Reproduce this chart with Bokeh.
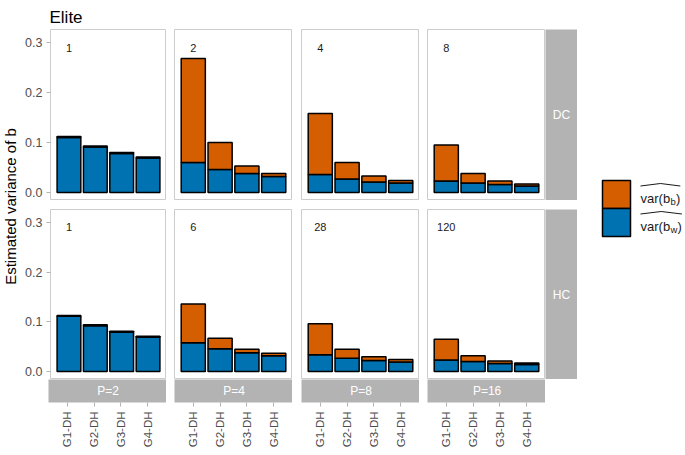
import math
from bokeh.plotting import figure
from bokeh.models import Range1d, FactorRange, FixedTicker, PrintfTickFormatter, ColumnDataSource, Spacer
from bokeh.layouts import row, column
from bokeh.embed import file_html
from bokeh.resources import INLINE
from bokeh.core.properties import value

# ---------------- data ----------------
groups = ["G1-DH", "G2-DH", "G3-DH", "G4-DH"]
p_labels = ["P=2", "P=4", "P=8", "P=16"]
row_labels = ["DC", "HC"]
counts_dc = ["1", "2", "4", "8"]
counts_hc = ["1", "6", "28", "120"]
y_ticks = [0.0, 0.1, 0.2, 0.3]
title_text = "Elite"
y_title = "Estimated variance of b"

# within (blue) and between (orange) components, stacked
w_dc_p2 = [0.110, 0.091, 0.078, 0.069]
b_dc_p2 = [0.002, 0.002, 0.002, 0.002]
w_dc_p4 = [0.060, 0.046, 0.038, 0.032]
b_dc_p4 = [0.208, 0.054, 0.015, 0.006]
w_dc_p8 = [0.036, 0.027, 0.021, 0.019]
b_dc_p8 = [0.122, 0.033, 0.012, 0.005]
w_dc_p16 = [0.023, 0.019, 0.016, 0.013]
b_dc_p16 = [0.072, 0.019, 0.007, 0.004]

w_hc_p2 = [0.111, 0.092, 0.079, 0.069]
b_hc_p2 = [0.002, 0.002, 0.002, 0.002]
w_hc_p4 = [0.058, 0.046, 0.038, 0.032]
b_hc_p4 = [0.078, 0.021, 0.007, 0.005]
w_hc_p8 = [0.034, 0.027, 0.022, 0.019]
b_hc_p8 = [0.062, 0.018, 0.008, 0.005]
w_hc_p16 = [0.023, 0.020, 0.016, 0.014]
b_hc_p16 = [0.042, 0.012, 0.005, 0.003]

dc_w = [w_dc_p2, w_dc_p4, w_dc_p8, w_dc_p16]
dc_b = [b_dc_p2, b_dc_p4, b_dc_p8, b_dc_p16]
hc_w = [w_hc_p2, w_hc_p4, w_hc_p8, w_hc_p16]
hc_b = [b_hc_p2, b_hc_p4, b_hc_p8, b_hc_p16]

# ---------------- style ----------------
FONT = "Liberation Sans"
BLUE = "#0072B2"
ORANGE = "#D55E00"
STRIP = "#B3B3B3"
BORDER = "#CCCCCC"
TICKC = "#B3B3B3"
LABC = "#4D4D4D"
PW = 118
GAPS = [8, 9, 8]
YLAB_W = 22
LEFT_AX = 26
STRIP_W = 32
H_TITLE = 29
H1 = 171
H2 = 170
ROW_GAP = 9
STRIP_H = 26
AX_H = 45
LABEL_Y = 0.29

xr = FactorRange(factors=groups, range_padding=0.2, range_padding_units="absolute")
yr = Range1d(-0.016, 0.326)


def blank(width, height):
    p = figure(width=width, height=height, x_range=(0, width), y_range=(0, height),
               x_axis_location=None, y_axis_location=None, toolbar_location=None,
               output_backend="svg", min_border=0)
    p.grid.visible = False
    p.outline_line_color = None
    return p


def panel(w, b, count, height, first):
    p = figure(width=PW + (LEFT_AX if first else 0), height=height, x_range=xr, y_range=yr,
               x_axis_location=None, y_axis_location="left" if first else None,
               toolbar_location=None, output_backend="svg", min_border=0)
    if first:
        p.min_border_left = LEFT_AX
        ax = p.yaxis[0]
        ax.ticker = FixedTicker(ticks=y_ticks)
        ax.formatter = PrintfTickFormatter(format="%.1f")
        ax.axis_line_color = None
        ax.major_tick_line_color = TICKC
        ax.major_tick_out = 4
        ax.major_tick_in = 0
        ax.minor_tick_line_color = None
        ax.major_label_standoff = 4
        ax.major_label_text_font = FONT
        ax.major_label_text_font_size = "12.5px"
        ax.major_label_text_color = LABC
    p.grid.visible = False
    p.outline_line_color = BORDER
    p.outline_line_width = 1
    p.background_fill_color = "white"
    src = ColumnDataSource(dict(g=groups, w=w, b=b))
    p.vbar_stack(["w", "b"], x="g", width=0.9, source=src,
                 fill_color=[BLUE, ORANGE], line_color="black", line_width=1.5)
    p.text(x=[groups[0]], y=[LABEL_Y], text=[count], text_font=value(FONT),
           text_font_size="11px", text_align="center", text_baseline="middle",
           text_color="#1A1A1A")
    return p


def right_strip(label, height):
    p = blank(STRIP_W, height)
    p.background_fill_color = STRIP
    p.text(x=[STRIP_W / 2], y=[height / 2], text=[label], text_font=value(FONT),
           text_font_size="12px", text_align="center", text_baseline="middle",
           text_color="white")
    return p


def bottom_strip(label):
    p = figure(width=PW, height=STRIP_H + AX_H, x_range=xr, y_range=(0, 1),
               y_axis_location=None, toolbar_location=None,
               output_backend="svg", min_border=0)
    p.min_border_bottom = AX_H
    p.grid.visible = False
    p.outline_line_color = None
    p.background_fill_color = STRIP
    ax = p.xaxis[0]
    ax.axis_line_color = None
    ax.major_tick_line_color = TICKC
    ax.major_tick_out = 4
    ax.major_tick_in = 0
    ax.minor_tick_line_color = None
    ax.major_label_standoff = 5
    ax.major_label_orientation = math.pi / 2
    ax.major_label_text_font = FONT
    ax.major_label_text_font_size = "11.5px"
    ax.major_label_text_color = LABC
    p.text(x=[groups[1]], y=[0.5], x_offset=14, text=[label], text_font=value(FONT),
           text_font_size="12px", text_align="center", text_baseline="middle",
           text_color="white")
    return p


def panel_row(ws, bs, counts, height, strip_label):
    items = []
    for i in range(4):
        if i > 0:
            items.append(Spacer(width=GAPS[i - 1], height=height))
        items.append(panel(ws[i], bs[i], counts[i], height, i == 0))
    items.append(right_strip(strip_label, height))
    return row(*items)


row_w = LEFT_AX + 4 * PW + sum(GAPS) + STRIP_W
main_w = YLAB_W + row_w

# title
tfig = blank(main_w, H_TITLE)
tfig.text(x=[49], y=[12.3], text=[title_text], text_font=value(FONT), text_font_size="17px",
          text_align="left", text_baseline="alphabetic", text_color="black")

# y axis title
ylab_h = H1 + ROW_GAP + H2
ylab = blank(YLAB_W, ylab_h)
ylab.text(x=[9.5], y=[ylab_h - (206 - H_TITLE)], text=[y_title], angle=math.pi / 2,
          text_font=value(FONT), text_font_size="15px", text_align="center",
          text_baseline="middle", text_color="black")

r1 = panel_row(dc_w, dc_b, counts_dc, H1, row_labels[0])
r2 = panel_row(hc_w, hc_b, counts_hc, H2, row_labels[1])
panels = column(r1, Spacer(width=row_w, height=ROW_GAP), r2)

strip_items = [Spacer(width=YLAB_W + LEFT_AX, height=STRIP_H + AX_H)]
for i in range(4):
    if i > 0:
        strip_items.append(Spacer(width=GAPS[i - 1], height=STRIP_H + AX_H))
    strip_items.append(bottom_strip(p_labels[i]))

main = column(tfig, row(ylab, panels), row(*strip_items))
total_h = H_TITLE + ylab_h + STRIP_H + AX_H

# legend
LEG_W = 685 - main_w
leg = blank(LEG_W, total_h)
key_y = [total_h - 194, total_h - 222]
leg.rect(x=[616 - main_w] * 2, y=key_y, width=28, height=28, fill_color=[ORANGE, BLUE],
         line_color="black", line_width=1.5)
x0 = 640 - main_w
main_fs = 13
sub_fs = 9.5
w_main = 2.278 * main_fs
subs = ["b", "w"]
sub_w = [0.556 * sub_fs, 0.722 * sub_fs]
base = [total_h - 198, total_h - 226]
for k in range(2):
    leg.text(x=[x0], y=[base[k]], text=["var(b"], text_font=value(FONT),
             text_font_size=f"{main_fs}px", text_align="left", text_baseline="alphabetic",
             text_color="#1A1A1A")
    leg.text(x=[x0 + w_main + 0.3], y=[base[k] - 3], text=[subs[k]], text_font=value(FONT),
             text_font_size=f"{sub_fs}px", text_align="left", text_baseline="alphabetic",
             text_color="#1A1A1A")
    xe = x0 + w_main + sub_w[k] + 0.6
    leg.text(x=[xe], y=[base[k]], text=[")"], text_font=value(FONT),
             text_font_size=f"{main_fs}px", text_align="left", text_baseline="alphabetic",
             text_color="#1A1A1A")
    xend = xe + 0.333 * main_fs
    leg.line(x=[x0, (x0 + xend) / 2, xend], y=[base[k] + 12.5, base[k] + 15, base[k] + 12.5],
             line_color="#1A1A1A", line_width=1)

layout = row(main, leg)

open("out.html", "w").write(file_html(layout, INLINE))
